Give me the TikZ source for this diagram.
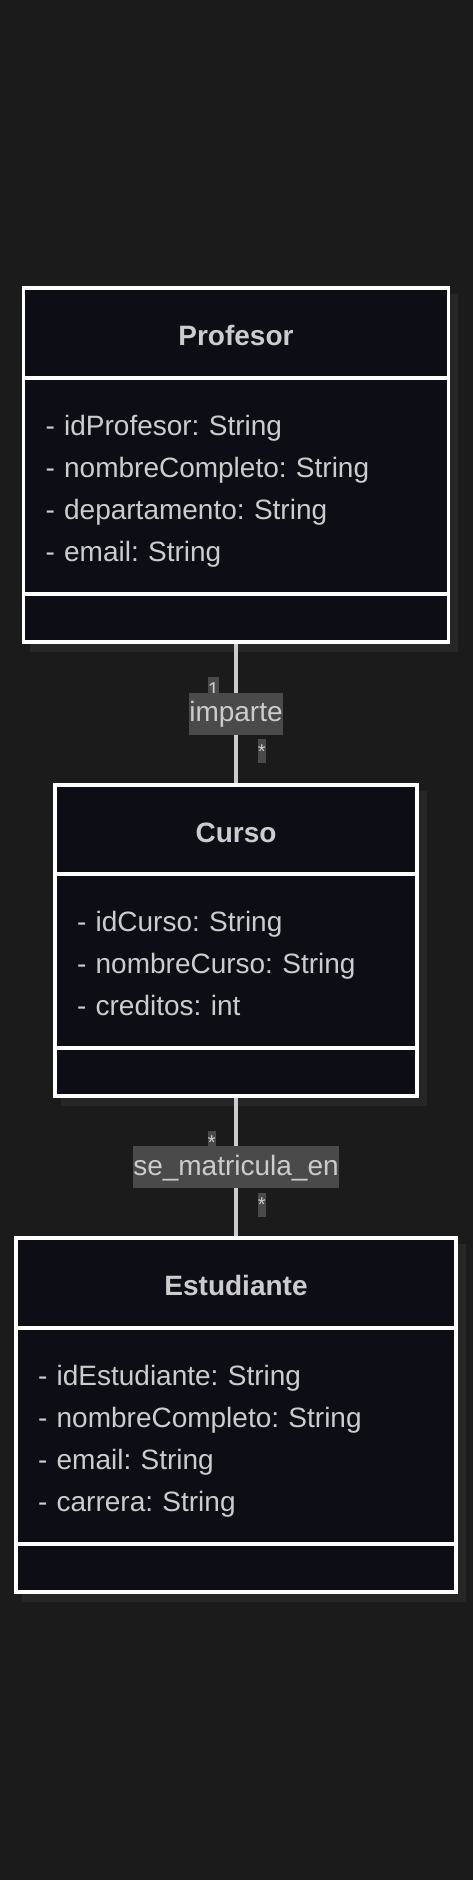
\documentclass[tikz,border=0pt]{standalone}
\usepackage{fontspec}
\setmainfont{Liberation Sans}
\usetikzlibrary{positioning, shadows}
\frenchspacing

\definecolor{bgdark}{HTML}{1B1B1C}
\definecolor{classfill}{HTML}{0D0E15}
\definecolor{classshade}{HTML}{262626}
\definecolor{umltext}{HTML}{CCCCCC}
\definecolor{labelfill}{HTML}{4A4A4A}

\newcommand{\attrstrut}{\rule[-8.3pt]{0pt}{42pt}}

\tikzset{
	classpart/.style={draw=white, line width=3.5pt, fill=classfill, outer sep=0pt, text=umltext,
		drop shadow={shadow xshift=8pt, shadow yshift=-8pt, fill=classshade, draw=classshade, opacity=1}},
	classname/.style={classpart, font=\fontsize{28}{42}\selectfont\bfseries, inner ysep=0pt, text height=57pt, text depth=33pt},
	classattrs/.style={classpart, font=\fontsize{28}{42}\selectfont, inner xsep=22pt, inner ysep=24pt, align=left},
	classops/.style={classpart, minimum height=48pt},
	relname/.style={fill=labelfill, text=umltext, font=\fontsize{28}{42}\selectfont, inner sep=0pt, text height=29pt, text depth=13pt},
	card/.style={fill=labelfill, text=umltext, font=\fontsize{20}{24}\selectfont, inner sep=0pt, text height=19pt, text depth=5pt, anchor=west},
	assoc/.style={draw=umltext, line width=3.5pt, shorten <=1.75pt, shorten >=1.75pt}
}

\begin{document}
\begin{tikzpicture}
	\useasboundingbox (0,0) rectangle (472pt,-1880pt);
	\fill[bgdark] (-5pt,5pt) rectangle (477pt,-1885pt);

	\node[classname, minimum width=425pt, anchor=north] (profesor) at (236pt,-288pt) {Profesor};
	\node[classattrs, minimum width=425pt, text width=381pt, below=0pt of profesor] (profesorattrs)
		{\attrstrut - idProfesor: String\\ \attrstrut - nombreCompleto: String\\ \attrstrut - departamento: String\\ \attrstrut - email: String};
	\node[classops, minimum width=425pt, below=0pt of profesorattrs] (profesorops) {};

	\node[classname, minimum width=362pt, text depth=32pt, below=143pt of profesorops] (curso) {Curso};
	\node[classattrs, minimum width=362pt, text width=318pt, below=0pt of curso] (cursoattrs)
		{\attrstrut - idCurso: String\\ \attrstrut - nombreCurso: String\\ \attrstrut - creditos: int};
	\node[classops, minimum width=362pt, below=0pt of cursoattrs] (cursoops) {};

	\node[classname, minimum width=440pt, below=142pt of cursoops] (estudiante) {Estudiante};
	\node[classattrs, minimum width=440pt, text width=396pt, below=0pt of estudiante] (estudianteattrs)
		{\attrstrut - idEstudiante: String\\ \attrstrut - nombreCompleto: String\\ \attrstrut - email: String\\ \attrstrut - carrera: String};
	\node[classops, minimum width=440pt, below=0pt of estudianteattrs] (estudianteops) {};

	\draw[assoc]
		(profesorops) --
			node[card, pos=0.33, xshift=-30pt] (imparteone) {1}
			node[relname] (imparte) {imparte}
			node[card, pos=0.765, xshift=20pt] (impartemany) {*}
		(curso);
	\draw[assoc]
		(cursoops) --
			node[card, pos=0.33, xshift=-30pt] (matriculamany) {*}
			node[relname] (matricula) {se\_matricula\_en}
			node[card, pos=0.765, xshift=20pt] (matriculamanyb) {*}
		(estudiante);
\end{tikzpicture}
\end{document}
